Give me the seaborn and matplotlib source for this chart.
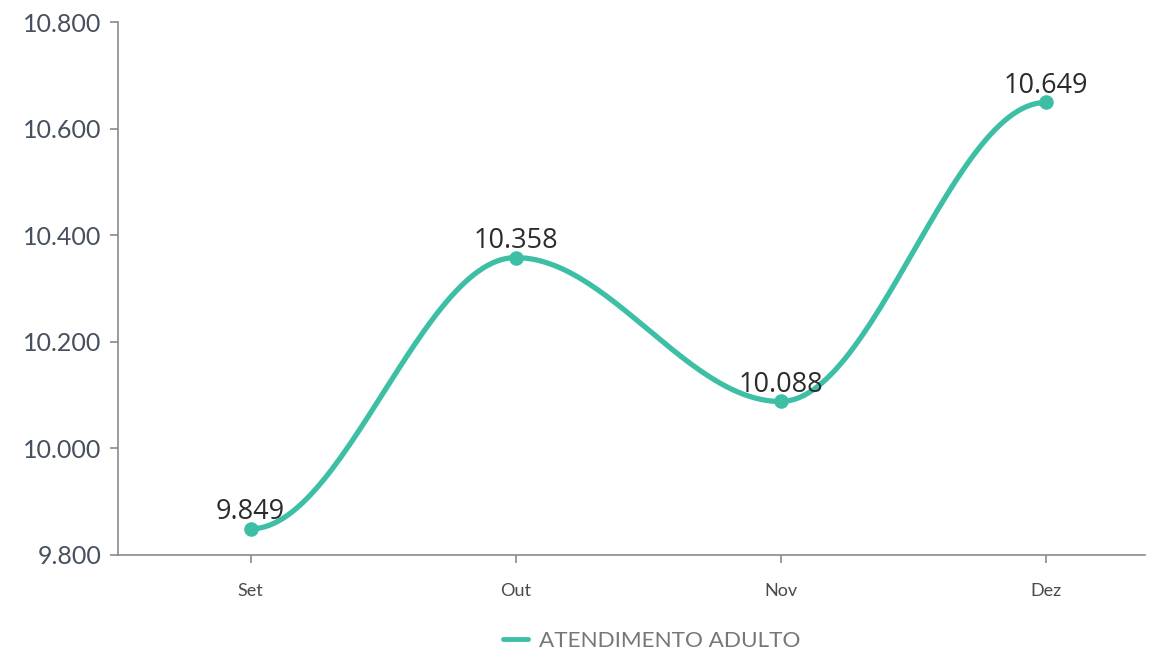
import numpy as np
import pandas as pd
import matplotlib
matplotlib.use("Agg")
import matplotlib.pyplot as plt
from matplotlib.lines import Line2D
from matplotlib.ticker import FuncFormatter
import seaborn as sns

months = ["Set", "Out", "Nov", "Dez"]
values = [9849, 10358, 10088, 10649]
series_name = "ATENDIMENTO ADULTO"
y_ticks = [9800, 10000, 10200, 10400, 10600, 10800]

TEAL = "#3dbfa6"

sns.set_theme(style="white")
plt.rcParams["font.family"] = ["Lato", "DejaVu Sans"]

fig = plt.figure(figsize=(11.61, 6.54), dpi=100)
ax = fig.add_axes([118 / 1161, 1 - 555 / 654, (1145 - 118) / 1161, (555 - 22) / 654])

# smooth curve (horizontal tangents at each point, bezier segments)
xs = np.arange(len(values), dtype=float)
ys = np.array(values, dtype=float)
cx, cy = [], []
t = np.linspace(0, 1, 60)
for i in range(len(xs) - 1):
    x0, x1 = xs[i], xs[i + 1]
    y0, y1 = ys[i], ys[i + 1]
    L = (x1 - x0) * 0.35
    p0 = (x0, y0); p1 = (x0 + L, y0); p2 = (x1 - L, y1); p3 = (x1, y1)
    bx = (1 - t) ** 3 * p0[0] + 3 * (1 - t) ** 2 * t * p1[0] + 3 * (1 - t) * t ** 2 * p2[0] + t ** 3 * p3[0]
    by = (1 - t) ** 3 * p0[1] + 3 * (1 - t) ** 2 * t * p1[1] + 3 * (1 - t) * t ** 2 * p2[1] + t ** 3 * p3[1]
    cx.extend(bx); cy.extend(by)

curve = pd.DataFrame({"x": cx, "y": cy})
pts = pd.DataFrame({"x": xs, "y": ys})

sns.lineplot(data=curve, x="x", y="y", ax=ax, color=TEAL, linewidth=3.8,
             sort=False, estimator=None, solid_capstyle="round")
sns.scatterplot(data=pts, x="x", y="y", ax=ax, color=TEAL, s=110,
                edgecolor=TEAL, linewidth=0, zorder=5)

for x, v in zip(xs, values):
    label = f"{v:,}".replace(",", ".")
    ax.annotate(label, (x, v), xytext=(0, 2), textcoords="offset points",
                ha="center", va="bottom", fontsize=19.5, color="#2b2b2b",
                family=["Open Sans", "DejaVu Sans"], zorder=6)

ax.set_xlim(-0.5, 3.375)
ax.set_ylim(9800, 10800)
ax.set_xticks(xs)
ax.set_xticklabels(months)
ax.set_yticks(y_ticks)
ax.yaxis.set_major_formatter(FuncFormatter(lambda v, p: f"{int(v):,}".replace(",", ".")))
ax.set_xlabel("")
ax.set_ylabel("")

for side in ["top", "right"]:
    ax.spines[side].set_visible(False)
for side in ["left", "bottom"]:
    ax.spines[side].set_color("#8a8a8a")
    ax.spines[side].set_linewidth(1.2)

ax.tick_params(axis="y", which="major", left=True, length=6, width=1.2, color="#8a8a8a",
               labelsize=18, labelcolor="#46505e", pad=6)
ax.tick_params(axis="x", which="major", bottom=True, length=6, width=1.2, color="#8a8a8a",
               labelsize=13, labelcolor="#4a4a4a", pad=14)

handle = Line2D([], [], color=TEAL, linewidth=3.5)
fig.legend([handle], [series_name], loc="center", bbox_to_anchor=(652 / 1161, 1 - 641 / 654),
           frameon=False, fontsize=16.2, labelcolor="#777777", handlelength=1.1,
           handletextpad=0.5)

fig.savefig("out.png", dpi=100)
